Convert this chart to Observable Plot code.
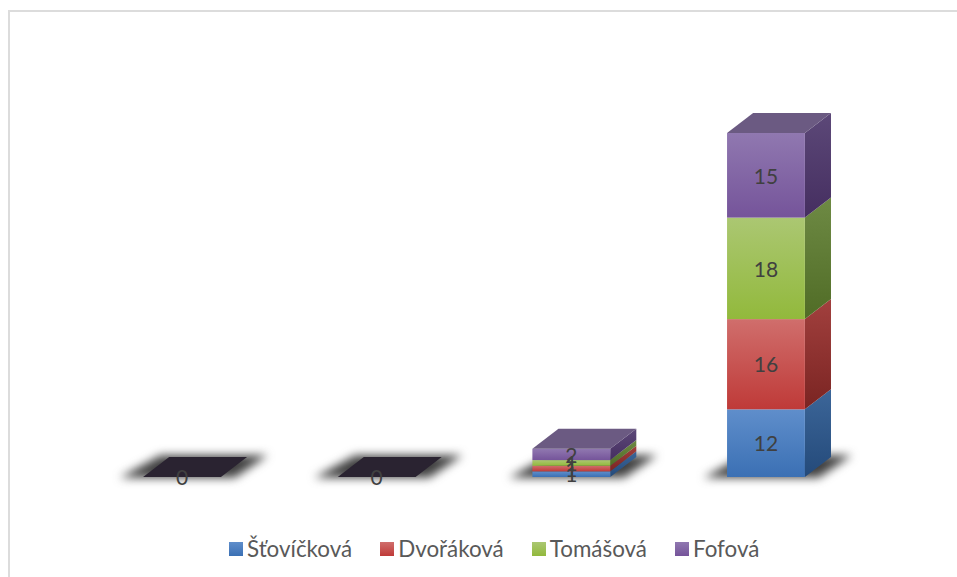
<!DOCTYPE html>
<html>
<head>
<meta charset="utf-8">
<script src="https://cdn.jsdelivr.net/npm/d3@7"></script>
<script src="https://cdn.jsdelivr.net/npm/@observablehq/plot@0.6"></script>
<style>
html,body{margin:0;padding:0;background:#fff;width:957px;height:577px;overflow:hidden}
#frameTop{position:absolute;left:8px;top:10px;width:949px;height:2px;background:#dcdcdc}
#frameLeft{position:absolute;left:8px;top:10px;width:2px;height:567px;background:#dcdcdc}
#chart{position:absolute;left:0;top:0}
#legend{position:absolute;left:229px;top:532px;display:flex;font-family:Lato,sans-serif;font-size:22.4px;color:#595959;line-height:34px;white-space:nowrap}
#legend .item{display:flex;align-items:center}
#legend .sw{width:14px;height:14px;margin-right:4px}
</style>
</head>
<body>
<div id="frameTop"></div>
<div id="frameLeft"></div>
<div id="chart"></div>
<div id="legend"></div>
<script>
const categories = ["A", "B", "C", "D"];
const seriesNames = ["Šťovíčková", "Dvořáková", "Tomášová", "Fofová"];
const stovickova = [0, 0, 1, 12];
const dvorakova = [0, 0, 1, 16];
const tomasova = [0, 0, 1, 18];
const fofova = [0, 0, 2, 15];
const seriesValues = [stovickova, dvorakova, tomasova, fofova];

const frontTop = ["#5f8ecb", "#d06e6c", "#abc772", "#9078b0"];
const frontBot = ["#3b70b4", "#bf3a38", "#92b93c", "#75549a"];
const sideTop = ["#3c6699", "#a2403e", "#6e8a44", "#5c4878"];
const sideBot = ["#244a7a", "#7a2422", "#506c26", "#452e60"];
const topPurple = "#6b5a82";
const topZero = "#2a2331";

const barHalf = 0.2;      // gap width 150%
const depthX = 0.134;     // oblique depth along x
const depthY = 3.55;      // oblique depth along y

const segments = [];
categories.forEach((c, i) => {
  let base = 0;
  seriesValues.forEach((vals, s) => {
    segments.push({i, s, v: vals[i], y1: base, y2: base + vals[i]});
    base += vals[i];
  });
});
const totals = categories.map((c, i) => ({i, total: d3.sum(seriesValues, v => v[i])}));

// Parallelogram faces as two-point area marks
const sidePts = segments.filter(d => d.v > 0).flatMap(d => [0, 1].map(t => ({
  key: d.i + "-" + d.s, s: d.s,
  x: d.i + barHalf + t * depthX,
  y1: d.y1 + t * depthY,
  y2: d.y2 + t * depthY
})));
const topPts = totals.flatMap(d => [0, 1].map(t => ({
  i: d.i, total: d.total,
  x1: d.i - barHalf + t * depthX,
  x2: d.i + barHalf + t * depthX,
  y: d.total + t * depthY
})));
const shadowPts = totals.flatMap(d => [0, 1].map(t => ({
  i: d.i,
  x1: d.i - 0.32 + t * 0.21,
  x2: d.i + 0.27 + t * 0.17,
  y: -0.15 + t * 4.0
})));

const grad = (id, a, b) => `<linearGradient id="${id}" x1="0" y1="0" x2="0" y2="1"><stop offset="0" stop-color="${a}"/><stop offset="1" stop-color="${b}"/></linearGradient>`;
const defs = () => {
  const g = document.createElementNS("http://www.w3.org/2000/svg", "defs");
  g.innerHTML = seriesNames.map((n, s) => grad("f" + s, frontTop[s], frontBot[s]) + grad("d" + s, sideTop[s], sideBot[s])).join("");
  return g;
};

const labels = segments.filter(d => d.v > 0 || d.s === 0);

const plot = Plot.plot({
  width: 957,
  height: 530,
  margin: 0,
  x: {domain: [-0.5, 3.5], range: [84.7, 863.3], axis: null},
  y: {domain: [0, 61], range: [477, 133], axis: null},
  marks: [
    defs,
    Plot.areaX(shadowPts, {y: "y", x1: "x1", x2: "x2", z: "i", fill: "#404040", imageFilter: "blur(5px)"}),
    ...seriesNames.flatMap((n, s) => [
      Plot.areaY(sidePts.filter(d => d.s === s), {x: "x", y1: "y1", y2: "y2", z: "key", fill: `url(#d${s})`}),
      Plot.rect(segments.filter(d => d.s === s && d.v > 0), {
        x1: d => d.i - barHalf, x2: d => d.i + barHalf, y1: "y1", y2: "y2", fill: `url(#f${s})`
      })
    ]),
    Plot.areaX(topPts.filter(d => d.total > 0), {y: "y", x1: "x1", x2: "x2", z: "i", fill: topPurple}),
    Plot.areaX(topPts.filter(d => d.total === 0), {y: "y", x1: "x1", x2: "x2", z: "i", fill: topZero}),
    Plot.text(labels, {
      x: "i", y: d => (d.y1 + d.y2) / 2, text: d => String(d.v),
      fontFamily: "Lato, sans-serif", fontSize: 21, fill: "#404040", dy: 1, dx: -0.5
    })
  ]
});
plot.style.background = "transparent";
document.getElementById("chart").append(plot);

const gaps = [28, 28, 28, 0];
document.getElementById("legend").innerHTML = seriesNames.map((n, s) =>
  `<div class="item" style="margin-right:${gaps[s]}px"><span class="sw" style="background:linear-gradient(${frontTop[s]},${frontBot[s]})"></span>${n}</div>`).join("");
</script>
</body>
</html>
